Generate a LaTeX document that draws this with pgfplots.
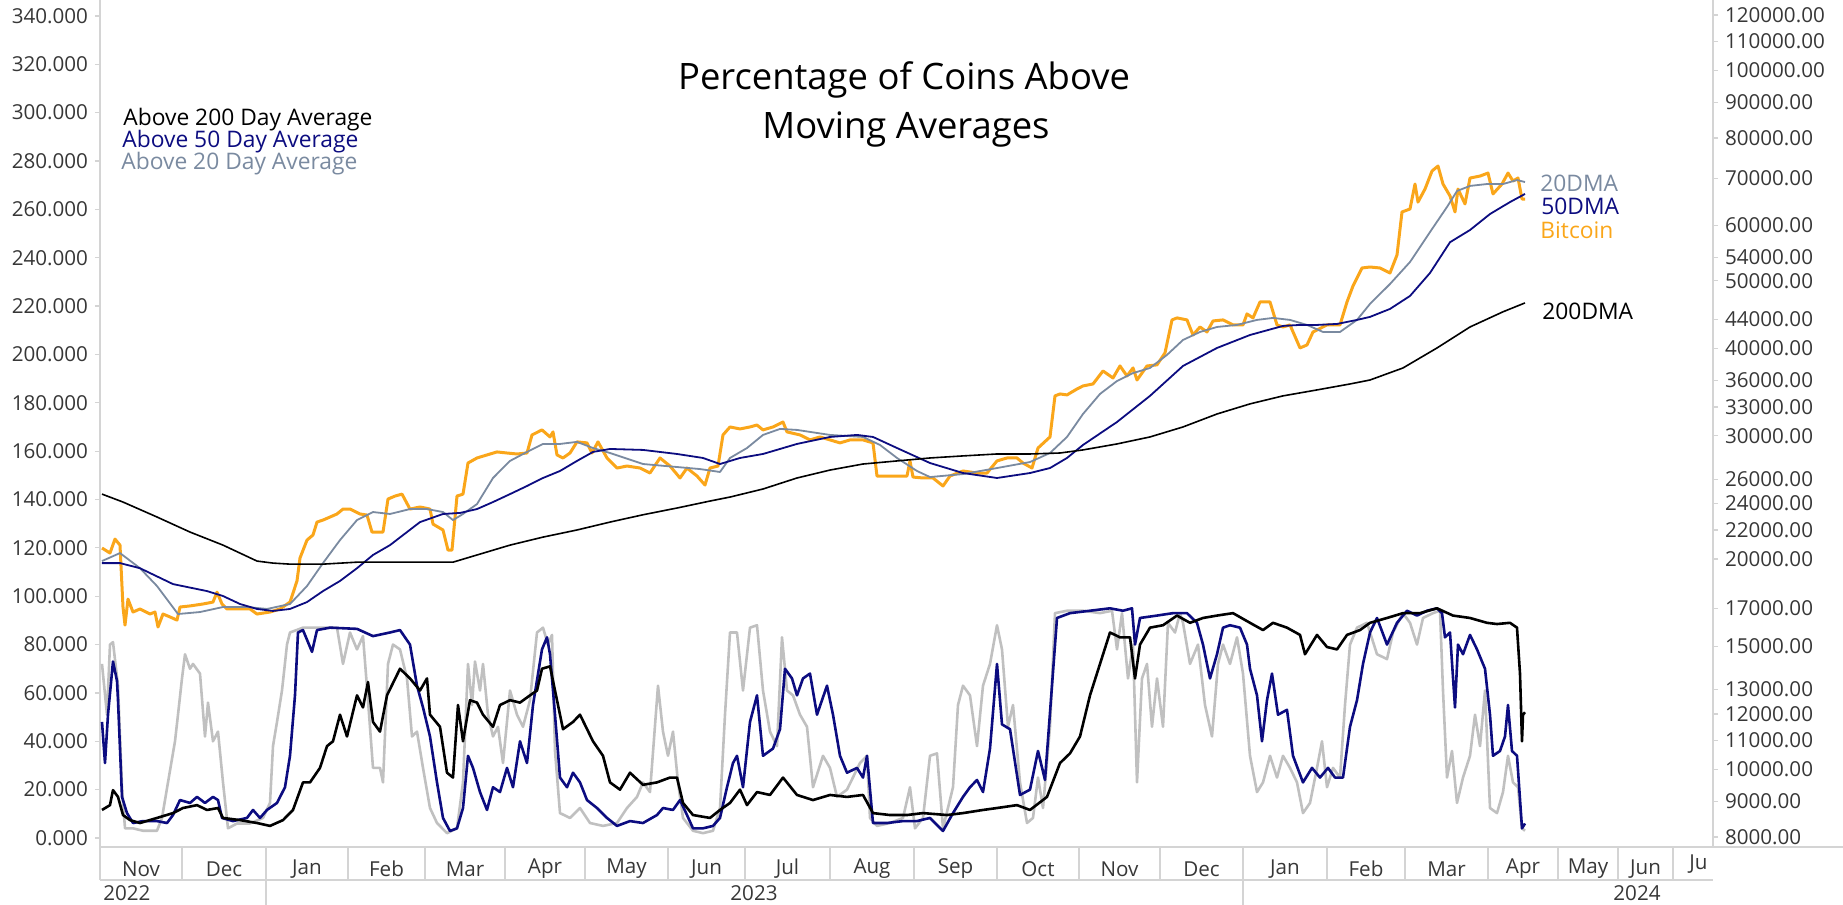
\documentclass[border=0pt]{standalone}
\usepackage{pgfplots}
\pgfplotsset{compat=1.18}
\usepackage{fontspec}
\setmainfont{Open Sans}

\definecolor{btc}{RGB}{250,166,26}
\definecolor{dmaslate}{RGB}{122,138,160}
\definecolor{dmanavy}{RGB}{12,12,128}
\definecolor{lgrey}{RGB}{192,192,192}
\definecolor{axisgrey}{RGB}{212,212,212}
\definecolor{txtgrey}{RGB}{55,55,55}

\newcommand{\tickfont}{\fontsize{10.3}{12}\selectfont}

\begin{document}
\begin{tikzpicture}
\useasboundingbox (-50pt,-29pt) rectangle (871.5pt,423.5pt);

% left axis: percentage of coins above the averages
\begin{axis}[
  width=806.5pt, height=423.5pt, scale only axis,
  xmin=100, xmax=1713, ymin=-3.72, ymax=346.6,
  axis x line*=bottom, axis y line*=left,
  axis line style={draw=axisgrey, line width=0.6pt},
  tick align=outside, major tick length=2.5pt,
  ytick={0,20,40,60,80,100,120,140,160,180,200,220,240,260,280,300,320,340},
  yticklabels={0.000,20.000,40.000,60.000,80.000,100.000,120.000,140.000,160.000,180.000,200.000,220.000,240.000,260.000,280.000,300.000,320.000,340.000},
  ytick style={draw=axisgrey, line width=0.6pt},
  xtick={141,224,307,386.5,465,545,626.5,706.5,787.5,872,955.5,1038,1119.5,1201.5,1285,1366,1446.5,1523,1588,1645.5},
  xticklabels={Nov,Dec,Jan,Feb,Mar,Apr,May,Jun,Jul,Aug,Sep,Oct,Nov,Dec,Jan,Feb,Mar,Apr,May,Jun},
  xtick style={draw=none},
  xticklabel style={anchor=center, yshift=-8.5pt},
  tick label style={font=\tickfont, text=txtgrey},
  every axis plot/.append style={line join=round},
]
\addplot[lgrey, line width=1.3pt] coordinates {
(102,72)(107,51)(110,80)(113,81)(118,63)(122,21)(125,4)(133,4)(143,3)(157,3)(162,8.3)(168,23)(175,40)(178,51)(182,66)(185,76)(190,70)(193,72)(200,68)(205,42)(208,56)(213,40)(218,44)(223,23)(228,4)(237,6)(250,6)(263,8.3)(270,14.5)(273,38)(277,48)(282,61)(287,80)(290,85)(303,87)(323,87)(337,87)(343,72)(350,85)(357,78)(363,83.5)(368,57)(373,29)(380,29)(383,23)(388,72)(393,80)(400,78)(407,66)(412,42)(417,44)(423,29)(430,12.4)(437,6.2)(447,2)(457,4)(463,23)(468,72)(472,55)(475,73)(480,61)(483,72)(488,51)(493,42)(498,46)(503,31)(510,61)(517,51)(523,46)(530,57)(537,85)(543,87)(548,80)(552,84)(555,36)(560,10.3)(570,8.3)(580,12.4)(590,6.2)(603,5)(617,6.2)(627,12.4)(637,17)(643,23)(650,19)(658,63)(663,44)(668,34)(673,44)(678,23)(683,8.3)(693,3)(703,2)(713,3)(720,12.4)(725,51)(730,85)(737,85)(743,61)(750,87)(757,88)(763,61)(770,44)(777,38)(782,83)(787,61)(793,59)(800,51)(807,46)(813,21)(823,34)(830,29)(837,17)(847,20)(860,31)(867,34)(870,8.3)(877,5)(890,6.2)(903,8.3)(910,21)(915,4)(923,8.3)(930,34)(937,35)(943,4)(953,21)(958,55)(963,63)(970,59)(977,38)(983,63)(990,72)(997,88)(1002,78)(1008,46)(1013,55)(1020,23)(1027,6.2)(1033,8.3)(1038,25)(1043,12.4)(1050,46)(1055,93)(1067,94)(1083,94)(1100,93)(1112,94)(1117,78)(1122,93)(1128,66)(1133,80)(1137,23)(1142,66)(1147,72)(1152,46)(1157,66)(1163,46)(1168,89)(1175,85)(1180,93)(1183,89)(1190,72)(1198,80)(1205,55)(1212,42)(1218,72)(1223,80)(1230,72)(1237,83)(1243,68)(1250,34)(1257,19)(1263,23)(1270,34)(1277,25)(1283,34)(1290,29)(1297,23)(1303,10.3)(1310,14.5)(1317,29)(1322,40)(1327,21)(1333,29)(1340,25)(1345,55)(1350,80)(1357,87)(1367,89)(1377,76)(1387,74)(1393,85)(1403,93)(1410,89)(1417,80)(1423,91)(1433,93)(1440,94)(1443,61)(1447,25)(1452,36)(1457,14.5)(1463,25)(1470,34)(1475,51)(1480,38)(1485,61)(1490,12.4)(1497,10.3)(1503,19)(1508,34)(1513,23)(1518,21)(1522,4)(1525,3)};
\addplot[dmanavy, line width=1.3pt] coordinates {
(102,48)(105,31)(108,51)(113,73)(117,65)(118,57)(122,17)(127,10.3)(133,6.2)(143,7)(157,7)(167,6.2)(173,9.5)(180,15.7)(190,14.5)(197,17)(205,14.5)(213,17)(218,15.7)(222,8.3)(233,7)(247,8.3)(253,11.6)(260,8.3)(267,11.6)(277,14.5)(285,21)(290,34)(295,59)(298,85)(303,86)(312,77)(317,86)(330,87)(357,86.5)(373,83.5)(390,85)(400,86)(410,80)(417,63)(423,54)(430,42)(437,23)(443,8.3)(450,2.9)(457,4)(463,12.4)(468,34)(473,29)(480,19)(487,11.6)(493,21)(500,19)(507,29)(513,21)(520,40)(527,31)(533,55)(542,78)(547,83)(550,76)(555,51)(560,25)(567,21)(573,27)(580,23)(587,15.7)(597,12.4)(607,8.3)(617,5)(630,7)(643,6.2)(657,9.5)(663,12.4)(673,11.6)(680,15.7)(687,9.5)(693,4)(703,4)(713,5)(720,8.3)(727,21)(733,31)(737,34)(743,21)(750,48)(757,59)(763,34)(773,37)(780,45)(785,70)(792,66)(797,59)(803,66)(810,68)(817,51)(827,63)(833,51)(840,34)(847,27)(857,29)(863,25)(867,34)(873,6.2)(887,6.2)(903,7)(917,7)(930,8.3)(943,2.9)(953,10.3)(963,17)(970,21)(977,24)(983,19)(990,37)(997,72)(1002,47)(1010,45)(1020,17.8)(1030,20)(1038,36)(1045,24)(1052,63)(1057,91)(1070,93)(1090,94)(1110,95)(1123,94)(1132,95)(1135,80)(1140,91)(1157,92)(1173,93)(1187,93)(1197,89)(1203,80)(1210,66)(1217,76)(1223,87)(1230,88)(1240,87)(1247,80)(1250,70)(1257,59)(1262,40)(1267,57)(1272,68)(1278,51)(1287,53)(1293,34)(1303,23)(1312,29)(1320,25)(1328,29)(1335,25)(1343,25)(1350,46)(1357,57)(1363,72)(1370,85)(1377,91)(1387,80)(1397,89)(1407,94)(1417,92)(1427,94)(1437,95)(1442,93)(1445,83)(1450,85)(1455,54)(1458,80)(1463,76)(1470,84)(1477,78)(1485,70)(1490,51)(1493,34)(1500,36)(1505,42)(1508,55)(1512,36)(1517,34)(1522,4)(1525,6)};
\addplot[black, line width=1.3pt] coordinates {
(102,11.6)(110,13.6)(113,19.8)(118,17)(123,9.5)(130,7.4)(140,6.2)(157,8.3)(173,10.3)(183,12.4)(197,13.6)(207,11.6)(218,12.4)(223,8.3)(240,7.4)(257,6.2)(270,5)(283,7.4)(293,11.6)(303,23)(310,23)(320,29)(327,38)(333,40)(340,51)(347,42)(357,59)(363,54)(368,64.5)(373,48)(380,44)(387,59)(400,70)(410,66)(420,61)(427,66)(430,51)(440,46)(447,27)(453,25)(458,55)(463,40)(470,57)(477,56)(483,51)(493,46)(500,55)(510,57)(520,56)(530,59)(537,61)(542,70)(550,71)(557,57)(563,45)(573,48)(580,51)(593,40)(603,34)(610,23)(620,20)(630,27)(643,22)(657,23)(670,25)(677,25)(683,14.5)(693,9.5)(710,8.3)(720,11.6)(730,14.5)(740,20)(747,13.6)(757,19)(770,17.8)(783,25)(797,17.8)(813,15.7)(830,17.8)(847,17)(863,17.8)(873,10.3)(890,9.5)(907,9.5)(923,10.3)(947,9.5)(963,10.3)(983,11.6)(997,12.4)(1017,13.6)(1030,11.6)(1047,17)(1060,31)(1070,35)(1080,42)(1090,59)(1100,72)(1110,85)(1120,83)(1130,83)(1135,66)(1140,80)(1150,87)(1163,88)(1177,92)(1190,89)(1203,91)(1217,92)(1233,93)(1250,89)(1263,86)(1273,89)(1287,87)(1300,84)(1305,76)(1317,84)(1327,79)(1337,78)(1347,84)(1360,86)(1370,89)(1387,91)(1403,93)(1420,93)(1437,95)(1453,92)(1470,91)(1487,89)(1497,88.5)(1510,89)(1517,87)(1520,68)(1522,40)(1523,51)(1525,52)};
\end{axis}

% right axis: bitcoin and its averages, log scale
\begin{axis}[
  width=806.5pt, height=423.5pt, scale only axis,
  xmin=100, xmax=1713, ymode=log, ymin=7744, ymax=126100,
  axis y line*=right, axis x line=none,
  axis line style={draw=axisgrey, line width=0.6pt},
  tick align=outside, major tick length=2.5pt, minor tick length=0pt,
  ytick={8000,9000,10000,11000,12000,13000,15000,17000,20000,22000,24000,26000,30000,33000,36000,40000,44000,50000,54000,60000,70000,80000,90000,100000,110000,120000},
  yticklabels={8000.00,9000.00,10000.00,11000.00,12000.00,13000.00,15000.00,17000.00,20000.00,22000.00,24000.00,26000.00,30000.00,33000.00,36000.00,40000.00,44000.00,50000.00,54000.00,60000.00,70000.00,80000.00,90000.00,100000.00,110000.00,120000.00},
  ytick style={draw=axisgrey, line width=0.6pt},
  yticklabel style={font=\tickfont, text=txtgrey},
  every axis plot/.append style={line join=round},
]
\addplot[btc, line width=1.5pt] coordinates {
(102,20730)(110,20390)(115,21350)(120,20930)(123,17070)(125,16080)(128,17520)(133,16790)(140,16960)(150,16680)(155,16790)(158,15980)(163,16680)(170,16520)(177,16350)(180,17070)(190,17130)(203,17240)(213,17350)(217,17930)(222,17240)(227,16960)(237,16960)(250,16960)(257,16680)(270,16790)(280,16960)(290,17350)(297,18600)(300,20060)(307,21280)(313,21640)(317,22580)(323,22730)(337,23190)(343,23570)(350,23570)(360,23190)(367,23110)(372,21850)(383,21850)(388,24360)(395,24600)(402,24760)(410,23570)(420,23730)(430,23570)(433,22430)(443,22000)(448,20590)(452,20590)(457,24600)(463,24760)(468,27430)(477,27890)(487,28170)(497,28450)(507,28350)(517,28260)(527,28350)(532,30090)(542,30590)(550,29890)(553,30390)(557,28170)(563,27890)(570,28350)(577,29410)(587,29310)(592,28350)(598,29410)(607,27890)(617,26980)(627,27160)(640,26980)(650,26540)(660,27890)(670,27160)(680,26110)(687,26980)(697,26280)(705,25510)(710,26980)(718,27160)(723,30090)(730,30890)(740,30690)(750,30890)(757,31090)(763,30590)(773,30890)(783,31400)(787,30390)(800,30090)(810,29600)(820,29890)(830,29600)(840,29310)(850,29600)(863,29600)(873,29310)(877,26280)(887,26280)(900,26280)(907,26280)(910,27620)(913,26190)(923,26110)(933,26110)(943,25430)(950,26280)(963,26720)(977,26540)(987,26540)(997,27620)(1007,27890)(1017,27890)(1023,27430)(1032,26980)(1038,28820)(1050,29890)(1055,34220)(1060,34440)(1067,34330)(1077,35010)(1083,35360)(1093,35590)(1103,37150)(1113,36300)(1120,37770)(1127,36540)(1133,37520)(1137,36060)(1147,37770)(1157,37900)(1165,39430)(1172,43950)(1177,44240)(1187,43950)(1193,41820)(1200,42940)(1207,42240)(1213,43800)(1223,43950)(1233,43230)(1243,43230)(1247,44830)(1253,44240)(1260,46630)(1270,46630)(1277,43230)(1283,42940)(1290,43230)(1300,40070)(1307,40470)(1313,42240)(1327,43230)(1340,43230)(1347,46630)(1353,49150)(1362,52150)(1370,52320)(1380,52150)(1390,51300)(1397,54430)(1402,62720)(1410,63340)(1415,68770)(1418,64800)(1425,67650)(1432,71780)(1438,72980)(1443,68770)(1450,66120)(1455,62720)(1458,67650)(1465,64400)(1470,70140)(1480,70600)(1488,71300)(1493,66560)(1502,68770)(1508,71300)(1513,69450)(1518,70140)(1522,65460)(1525,65460)};
\addplot[dmaslate, line width=0.9pt] coordinates {
(102,19860)(120,20390)(140,19400)(157,18290)(178,16680)(200,16790)(223,17070)(247,17070)(267,16960)(290,17240)(307,18290)(323,19730)(340,21280)(357,22730)(373,23340)(390,23190)(410,23570)(427,23570)(443,23340)(453,22730)(463,23190)(477,23960)(493,26110)(510,27620)(527,28450)(543,29210)(560,29210)(577,29410)(593,28820)(610,28350)(643,27340)(677,27070)(700,26890)(720,26630)(730,27890)(747,28820)(763,30090)(780,30690)(797,30590)(830,30090)(863,29890)(880,29110)(897,27890)(917,26720)(930,26190)(963,26450)(997,26980)(1030,27520)(1050,28350)(1067,29890)(1083,32240)(1100,34440)(1117,35940)(1133,36890)(1150,37520)(1167,39170)(1183,41140)(1200,42240)(1217,42940)(1237,43230)(1257,43950)(1273,44240)(1290,43950)(1307,43230)(1323,42240)(1340,42240)(1357,43950)(1370,46330)(1390,49470)(1410,53190)(1430,58710)(1447,63760)(1457,67210)(1470,68340)(1487,68770)(1503,68770)(1517,69680)(1525,69220)};
\addplot[dmanavy, line width=0.9pt] coordinates {
(102,19730)(120,19730)(140,19400)(173,18410)(207,17990)(223,17700)(240,17240)(257,16960)(273,16850)(290,16960)(307,17350)(323,17990)(340,18600)(357,19400)(373,20260)(390,20930)(407,21850)(420,22580)(443,23190)(460,23270)(477,23570)(493,24120)(510,24760)(527,25430)(543,26110)(560,26720)(577,27620)(593,28450)(610,28730)(643,28640)(677,28260)(703,27890)(720,27340)(740,27890)(763,28260)(797,29210)(830,29890)(857,30090)(873,29890)(897,28820)(930,27430)(963,26540)(997,26110)(1030,26540)(1050,26980)(1067,27890)(1083,29110)(1117,31400)(1150,34220)(1183,37770)(1217,40070)(1250,41820)(1283,43090)(1300,43230)(1317,43230)(1337,43370)(1357,43950)(1370,44390)(1390,45570)(1410,47560)(1430,51300)(1450,56770)(1470,59100)(1490,62300)(1510,64800)(1525,66560)};
\addplot[black, line width=0.8pt] coordinates {
(102,24760)(123,24120)(157,22960)(190,21850)(223,20930)(257,19860)(273,19730)(290,19660)(323,19660)(357,19790)(390,19790)(420,19790)(453,19790)(477,20260)(510,20930)(543,21490)(577,22000)(610,22580)(643,23130)(677,23650)(710,24200)(730,24520)(763,25180)(797,26110)(830,26800)(863,27340)(897,27620)(930,27890)(963,28080)(997,28260)(1030,28260)(1060,28350)(1083,28640)(1117,29210)(1150,29890)(1183,30890)(1217,32240)(1250,33330)(1283,34220)(1317,34900)(1350,35590)(1370,36060)(1403,37520)(1437,40070)(1470,42940)(1503,45140)(1525,46480)};
\end{axis}

% frame pieces, date rows and texts, placed in picture pixels
\begin{scope}[x=0.5pt, y=-0.5pt, shift={(-50pt,423.5pt)}]
  \draw[axisgrey, line width=0.6pt] (100,847) -- (1843,847);
  \draw[axisgrey, line width=0.6pt] (100,880) -- (1713,880);
  \draw[axisgrey, line width=0.6pt] (100,847) -- (100,880);
  \foreach \s in {182,348,425,505,585,668,745,830,914,997,1079,1160,1327,1405,1488,1558,1618,1673}
    \draw[axisgrey, line width=0.6pt] (\s,847) -- (\s,880);
  \foreach \s in {266,1243}
    \draw[axisgrey, line width=0.6pt] (\s,847) -- (\s,905);
  \node[font=\tickfont, text=txtgrey, anchor=west, inner sep=0pt] at (1689,864) {Ju};
  \node[font=\tickfont, text=txtgrey, anchor=west, inner sep=0pt] at (103,893) {2022};
  \node[font=\tickfont, text=txtgrey, inner sep=0pt] at (754,893) {2023};
  \node[font=\tickfont, text=txtgrey, inner sep=0pt] at (1637,893) {2024};
  % title
  \node[font=\fontsize{18.2}{21}\selectfont, inner sep=0pt] at (904,80) {Percentage of Coins Above};
  \node[font=\fontsize{18.2}{21}\selectfont, inner sep=0pt] at (906,130) {Moving Averages};
  % legend
  \begin{scope}[every node/.style={font=\fontsize{11.4}{13}\selectfont, anchor=west, inner sep=0pt}]
    \node[text=black] at (123,120) {Above 200 Day Average};
    \node[text=dmanavy] at (122,142) {Above 50 Day Average};
    \node[text=dmaslate] at (121,164) {Above 20 Day Average};
    \node[text=dmaslate] at (1540,183) {20DMA};
    \node[text=dmanavy] at (1541,206) {50DMA};
    \node[text=btc] at (1540,230) {Bitcoin};
    \node[text=black] at (1542,311) {200DMA};
  \end{scope}
\end{scope}
\end{tikzpicture}
\end{document}
